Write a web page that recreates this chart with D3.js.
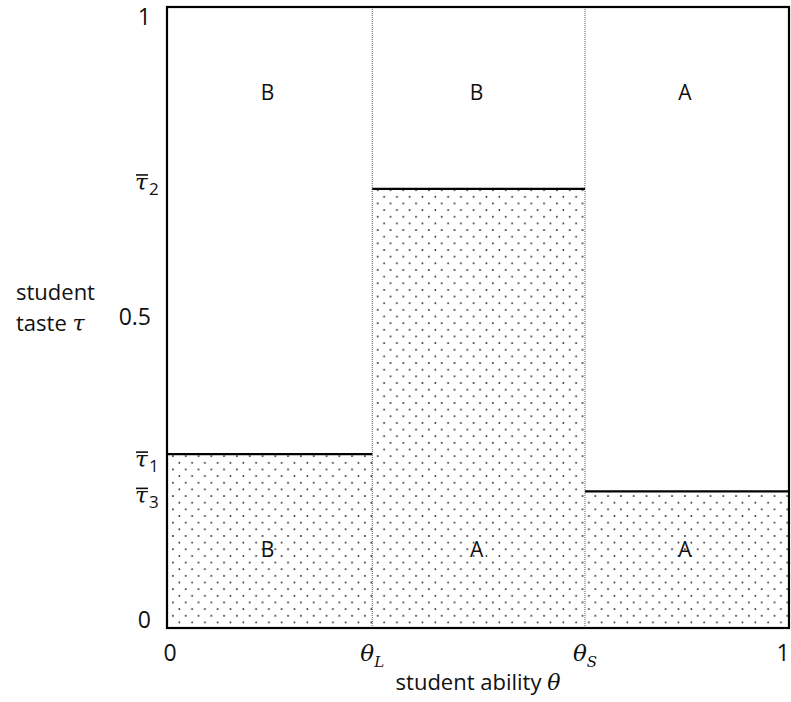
<!DOCTYPE html>
<html>
<head>
<meta charset="utf-8">
<script src="https://d3js.org/d3.v7.min.js"></script>
<style>
  body { margin: 0; background: #fff; }
  text { fill: #111; }
</style>
</head>
<body>
<svg width="791" height="702"></svg>
<script>
// region boundaries on the ability axis
var thetaCuts = [0, 0.33, 0.672, 1]
// taste thresholds per region
var tauBars = [0.28, 0.707, 0.22]
var upperLabels = ['B', 'B', 'A']
var lowerLabels = ['B', 'A', 'A']
var yTickValues = [0, 0.5, 1]
var yTickLabels = ['0', '0.5', '1']
var xTickLabels = [['0', ''], ['\u03B8', 'L'], ['\u03B8', 'S'], ['1', '']]
var tauLabels = ['1', '2', '3']

var sans = "'Open Sans', sans-serif"
var serif = "'DejaVu Serif', serif"

var svg = d3.select('svg')

var x = d3.scaleLinear().domain([0, 1]).range([167, 789])
var y = d3.scaleLinear().domain([0, 1]).range([628, 7])

// dot pattern
var defs = svg.append('defs')
var pat = defs.append('pattern')
    .attr('id', 'dots')
    .attr('patternUnits', 'userSpaceOnUse')
    .attr('width', 12.8)
    .attr('height', 13.3)
    .attr('x', 172)
    .attr('y', 3)
pat.append('circle').attr('cx', 0.9).attr('cy', 0.9).attr('r', 0.9).attr('fill', '#222')
pat.append('circle').attr('cx', 7.3).attr('cy', 7.55).attr('r', 0.9).attr('fill', '#222')

var regions = tauBars.map(function(t, i) {
    return {x0: thetaCuts[i], x1: thetaCuts[i + 1], tau: t, up: upperLabels[i], low: lowerLabels[i]}
})

// shaded areas below thresholds
svg.selectAll('rect.fill')
    .data(regions)
    .enter()
    .append('rect')
    .attr('class', 'fill')
    .attr('x', function(d) { return x(d.x0) })
    .attr('width', function(d) { return x(d.x1) - x(d.x0) })
    .attr('y', function(d) { return y(d.tau) })
    .attr('height', function(d) { return y(0) - y(d.tau) })
    .attr('fill', 'url(#dots)')

// dotted dividers
svg.selectAll('line.div')
    .data(thetaCuts.slice(1, 3))
    .enter()
    .append('line')
    .attr('x1', function(d) { return x(d) })
    .attr('x2', function(d) { return x(d) })
    .attr('y1', y(1))
    .attr('y2', y(0))
    .attr('stroke', '#555')
    .attr('stroke-width', 1)
    .attr('stroke-dasharray', '1,1')

// threshold lines
svg.selectAll('line.tau')
    .data(regions)
    .enter()
    .append('line')
    .attr('x1', function(d) { return x(d.x0) })
    .attr('x2', function(d) { return x(d.x1) })
    .attr('y1', function(d) { return y(d.tau) })
    .attr('y2', function(d) { return y(d.tau) })
    .attr('stroke', '#000')
    .attr('stroke-width', 2.2)

// frame
svg.append('rect')
    .attr('x', x(0)).attr('y', y(1))
    .attr('width', x(1) - x(0)).attr('height', y(0) - y(1))
    .attr('fill', 'none').attr('stroke', '#000').attr('stroke-width', 2.2)

// region letters
svg.selectAll('text.up')
    .data(regions)
    .enter()
    .append('text')
    .attr('x', function(d) { return x((d.x0 + d.x1) / 2) - 2 })
    .attr('y', y(0.85))
    .attr('text-anchor', 'middle')
    .style('font-family', sans).style('font-size', '21px')
    .text(function(d) { return d.up })

svg.selectAll('text.low')
    .data(regions)
    .enter()
    .append('text')
    .attr('x', function(d) { return x((d.x0 + d.x1) / 2) - 2 })
    .attr('y', y(0.115))
    .attr('text-anchor', 'middle')
    .style('font-family', sans).style('font-size', '21px')
    .text(function(d) { return d.low })

// y tick labels
svg.selectAll('text.ytick')
    .data(yTickValues)
    .enter()
    .append('text')
    .attr('x', 151)
    .attr('y', function(d) { return y(d) })
    .attr('dy', function(d, i) { return i == 2 ? 18 : (i == 0 ? 0 : 7) })
    .attr('text-anchor', 'end')
    .style('font-family', sans).style('font-size', '23px')
    .text(function(d, i) { return yTickLabels[i] })

// tau-bar labels
var tauOffsets = [13, 1, 12]
var tl = svg.selectAll('g.taulab')
    .data(tauBars)
    .enter()
    .append('g')
    .attr('transform', function(d, i) { return 'translate(135,' + (y(d) + tauOffsets[i]) + ')' })
tl.append('text')
    .style('font-family', serif).style('font-style', 'italic').style('font-size', '23px')
    .text('\u03C4')
tl.append('line')
    .attr('x1', 1).attr('x2', 13).attr('y1', -15).attr('y2', -15)
    .attr('stroke', '#111').attr('stroke-width', 1.6)
tl.append('text')
    .attr('x', 14).attr('y', 5)
    .style('font-family', sans).style('font-size', '17px')
    .text(function(d, i) { return tauLabels[i] })

// x tick labels
var xt = svg.selectAll('text.xtick')
    .data(thetaCuts)
    .enter()
    .append('text')
    .attr('x', function(d, i) { return x(d) + (i == 1 || i == 2 ? 0 : (i == 0 ? 3 : -6)) })
    .attr('y', 661)
    .attr('text-anchor', 'middle')
xt.append('tspan')
    .style('font-family', function(d, i) { return (i == 1 || i == 2) ? serif : sans })
    .style('font-style', function(d, i) { return (i == 1 || i == 2) ? 'italic' : 'normal' })
    .style('font-size', '23px')
    .text(function(d, i) { return xTickLabels[i][0] })
xt.append('tspan')
    .attr('dy', 6)
    .style('font-family', serif).style('font-style', 'italic').style('font-size', '15px')
    .text(function(d, i) { return xTickLabels[i][1] })

// axis titles
var xtitle = svg.append('text')
    .attr('x', 478).attr('y', 690)
    .attr('text-anchor', 'middle')
    .style('font-family', sans).style('font-size', '22px')
xtitle.append('tspan').text('student ability ')
xtitle.append('tspan').style('font-family', serif).style('font-style', 'italic').text('\u03B8')

svg.append('text')
    .attr('x', 16).attr('y', 300)
    .style('font-family', sans).style('font-size', '22px')
    .text('student')
var ytitle = svg.append('text')
    .attr('x', 16).attr('y', 331)
    .style('font-family', sans).style('font-size', '22px')
ytitle.append('tspan').text('taste ')
ytitle.append('tspan').style('font-family', serif).style('font-style', 'italic').text('\u03C4')
</script>
</body>
</html>
